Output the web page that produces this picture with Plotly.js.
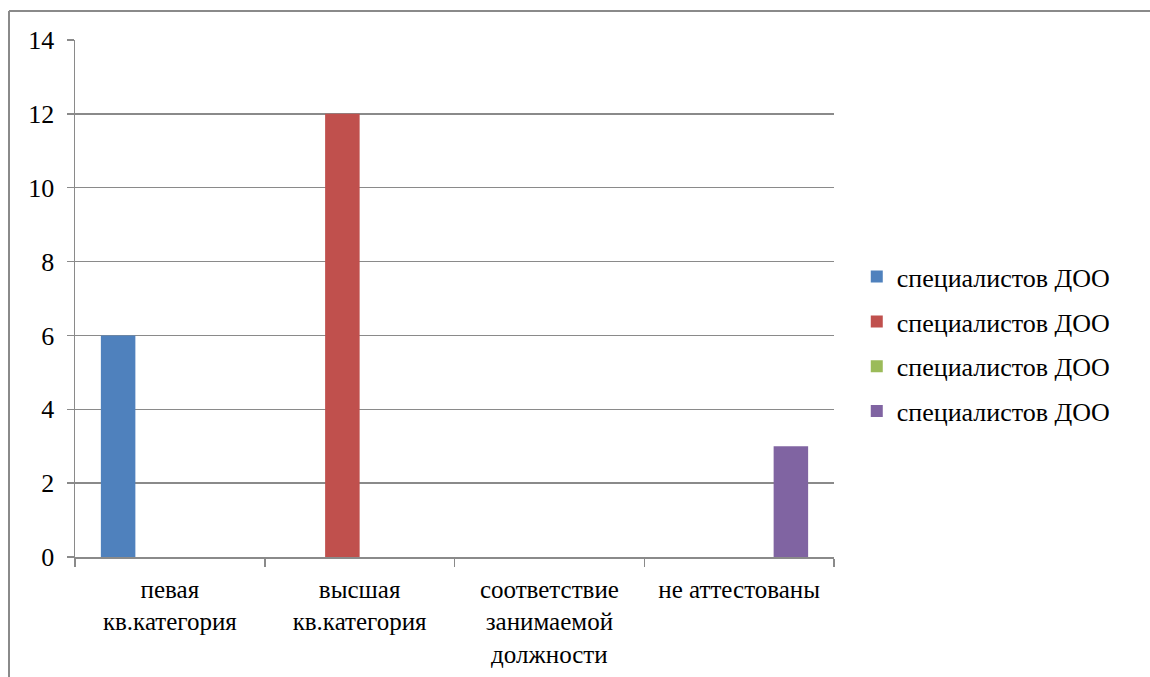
<!DOCTYPE html>
<html>
<head>
<meta charset="utf-8">
<script src="https://cdn.plot.ly/plotly-3.0.1.min.js"></script>
<style>
  html, body { margin: 0; padding: 0; background: #ffffff; }
  #chart { width: 1150px; height: 677px; }
</style>
</head>
<body>
<div id="chart"></div>
<script>
const categories = [
  'певая<br>кв.категория',
  'высшая<br>кв.категория',
  'соответствие<br>занимаемой<br>должности',
  'не аттестованы'
];
const seriesNames = ['специалистов ДОО', 'специалистов ДОО', 'специалистов ДОО', 'специалистов ДОО'];
const series1 = [6, 0, 0, 0];
const series2 = [0, 12, 0, 0];
const series3 = [0, 0, 0, 0];
const series4 = [0, 0, 0, 3];
const yTicks = [0, 2, 4, 6, 8, 10, 12, 14];

const colors = ['#4F81BD', '#C0504D', '#9BBB59', '#8064A2'];
const allSeries = [series1, series2, series3, series4];

const FONT = 'Liberation Serif, Times New Roman, serif';
const GRAY = '#8a8a8a';

const traces = allSeries.map((vals, i) => ({
  type: 'bar',
  x: categories,
  y: vals,
  name: seriesNames[i],
  legendgroup: 'g' + i,
  marker: { color: colors[i], line: { width: 0 } },
  hoverinfo: 'skip'
}));

const layout = {
  width: 1150,
  height: 677,
  margin: { l: 75, r: 316, t: 40, b: 120, pad: 0 },
  paper_bgcolor: '#ffffff',
  plot_bgcolor: '#ffffff',
  font: { family: FONT, size: 26, color: '#000000' },
  barmode: 'group',
  bargap: 0.2727,
  bargroupgap: 0,
  showlegend: true,
  legend: {
    x: 1.03, xanchor: 'left',
    y: 0.4116, yanchor: 'middle',
    font: { family: FONT, size: 26, color: '#000000' },
    tracegroupgap: 8,
    itemwidth: 30,
    bgcolor: 'rgba(0,0,0,0)'
  },
  xaxis: {
    type: 'category',
    tickson: 'boundaries',
    ticks: 'outside',
    ticklen: 8,
    tickcolor: GRAY,
    tickwidth: 1.5,
    showline: true,
    linecolor: GRAY,
    linewidth: 1.5,
    showgrid: false,
    zeroline: false,
    ticklabelstandoff: 9,
    tickfont: { family: FONT, size: 25, color: '#000000' },
    tickangle: 0
  },
  yaxis: {
    range: [0, 14],
    tickvals: yTicks,
    ticktext: yTicks.map(String),
    ticks: 'outside',
    ticklen: 7,
    tickcolor: GRAY,
    tickwidth: 1.5,
    showline: true,
    linecolor: GRAY,
    linewidth: 1.5,
    showgrid: true,
    gridcolor: GRAY,
    gridwidth: 1.5,
    zeroline: false,
    ticklabelstandoff: 7,
    tickfont: { family: FONT, size: 26, color: '#000000' }
  },
  shapes: [
    { type: 'line', xref: 'paper', yref: 'paper',
      x0: (9 - 75) / 759, x1: 2, y0: 1 + (40 - 11) / 517, y1: 1 + (40 - 11) / 517,
      line: { color: GRAY, width: 2 } },
    { type: 'line', xref: 'paper', yref: 'paper',
      x0: (9 - 75) / 759, x1: (9 - 75) / 759, y0: 1 + (40 - 11) / 517, y1: -1,
      line: { color: GRAY, width: 2 } }
  ]
};

Plotly.newPlot('chart', traces, layout, { displayModeBar: false, staticPlot: true });
</script>
</body>
</html>
